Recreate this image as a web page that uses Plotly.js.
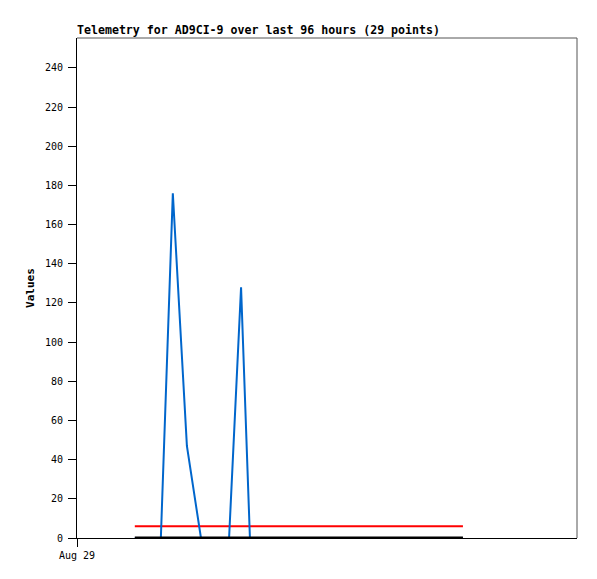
<!DOCTYPE html>
<html>
<head>
<meta charset="utf-8">
<script src="https://cdn.plot.ly/plotly-3.0.1.min.js"></script>
<style>html,body{margin:0;padding:0;background:#fff;}#chart{width:597px;height:579px;}</style>
</head>
<body>
<div id="chart"></div>
<script>
var times = [
  "2024-08-29 11:06","2024-08-29 13:36","2024-08-29 16:06","2024-08-29 18:24","2024-08-29 21:06",
  "2024-08-29 23:48","2024-08-30 02:30","2024-08-30 05:12","2024-08-30 07:30","2024-08-30 09:12",
  "2024-08-30 11:24","2024-08-30 13:30","2024-08-30 15:42","2024-08-30 17:48","2024-08-30 20:00",
  "2024-08-30 22:06","2024-08-31 00:18","2024-08-31 02:24","2024-08-31 04:36","2024-08-31 06:42",
  "2024-08-31 08:54","2024-08-31 11:00","2024-08-31 13:12","2024-08-31 15:18","2024-08-31 17:30",
  "2024-08-31 19:36","2024-08-31 21:48","2024-08-31 23:54","2024-09-01 02:06"
];
var blueValues = [0,0,0,176,47,0,0,0,128,0,0,0,0,0,0,0,0,0,0,0,0,0,0,0,0,0,0,0,0];
var redValues  = [6,6,6,6,6,6,6,6,6,6,6,6,6,6,6,6,6,6,6,6,6,6,6,6,6,6,6,6,6];
var blackValues= [0,0,0,0,0,0,0,0,0,0,0,0,0,0,0,0,0,0,0,0,0,0,0,0,0,0,0,0,0];
var yTicks = [0,20,40,60,80,100,120,140,160,180,200,220,240];
var xTickVals = ["2024-08-29 00:00"];
var xTickText = ["Aug 29"];
var titleText = "Telemetry for AD9CI-9 over last 96 hours (29 points)";
var yTitle = "Values";

var traces = [
  {x: times, y: redValues, type: "scatter", mode: "lines", line: {color: "#ff0000", width: 2}, hoverinfo: "none"},
  {x: times, y: blueValues, type: "scatter", mode: "lines", line: {color: "#0066cc", width: 2}, hoverinfo: "none"},
  {x: times, y: blackValues, type: "scatter", mode: "lines", line: {color: "#000000", width: 3}, hoverinfo: "none"}
];

var layout = {
  width: 597, height: 579,
  margin: {l: 77, r: 20, t: 38, b: 41, pad: 0},
  paper_bgcolor: "#ffffff", plot_bgcolor: "#ffffff",
  showlegend: false,
  title: {text: "<b>" + titleText + "</b>", x: 0, xanchor: "left", y: 1 - 34/579, yanchor: "bottom",
          xref: "paper", font: {family: "DejaVu Sans Mono", size: 11.6, color: "#000"}},
  xaxis: {
    type: "date", range: ["2024-08-29 00:00", "2024-09-02 00:00"],
    tickmode: "array", tickvals: xTickVals, ticktext: xTickText,
    ticks: "outside", ticklen: 8, tickcolor: "#000", tickwidth: 1,
    showgrid: false, zeroline: false, showline: true, linecolor: "#000", linewidth: 1,
    tickfont: {family: "DejaVu Sans Mono", size: 10, color: "#000"}, fixedrange: true
  },
  yaxis: {
    range: [0, 255.3], tickmode: "array", tickvals: yTicks,
    ticks: "outside", ticklen: 8, tickcolor: "#000", tickwidth: 1, ticklabelstandoff: 3,
    showgrid: false, zeroline: false, showline: true, linecolor: "#000", linewidth: 1,
    tickfont: {family: "DejaVu Sans Mono", size: 10, color: "#000"},
    title: {text: "<b>" + yTitle + "</b>", standoff: 8, font: {family: "DejaVu Sans Mono", size: 11, color: "#000"}},
    fixedrange: true
  },
  shapes: [
    {type: "line", xref: "paper", yref: "paper", x0: 0, x1: 1, y0: 1, y1: 1, line: {color: "#555", width: 1}},
    {type: "line", xref: "paper", yref: "paper", x0: 1, x1: 1, y0: 0, y1: 1, line: {color: "#555", width: 1}}
  ]
};

Plotly.newPlot("chart", traces, layout, {displayModeBar: false, staticPlot: true});
</script>
</body>
</html>
